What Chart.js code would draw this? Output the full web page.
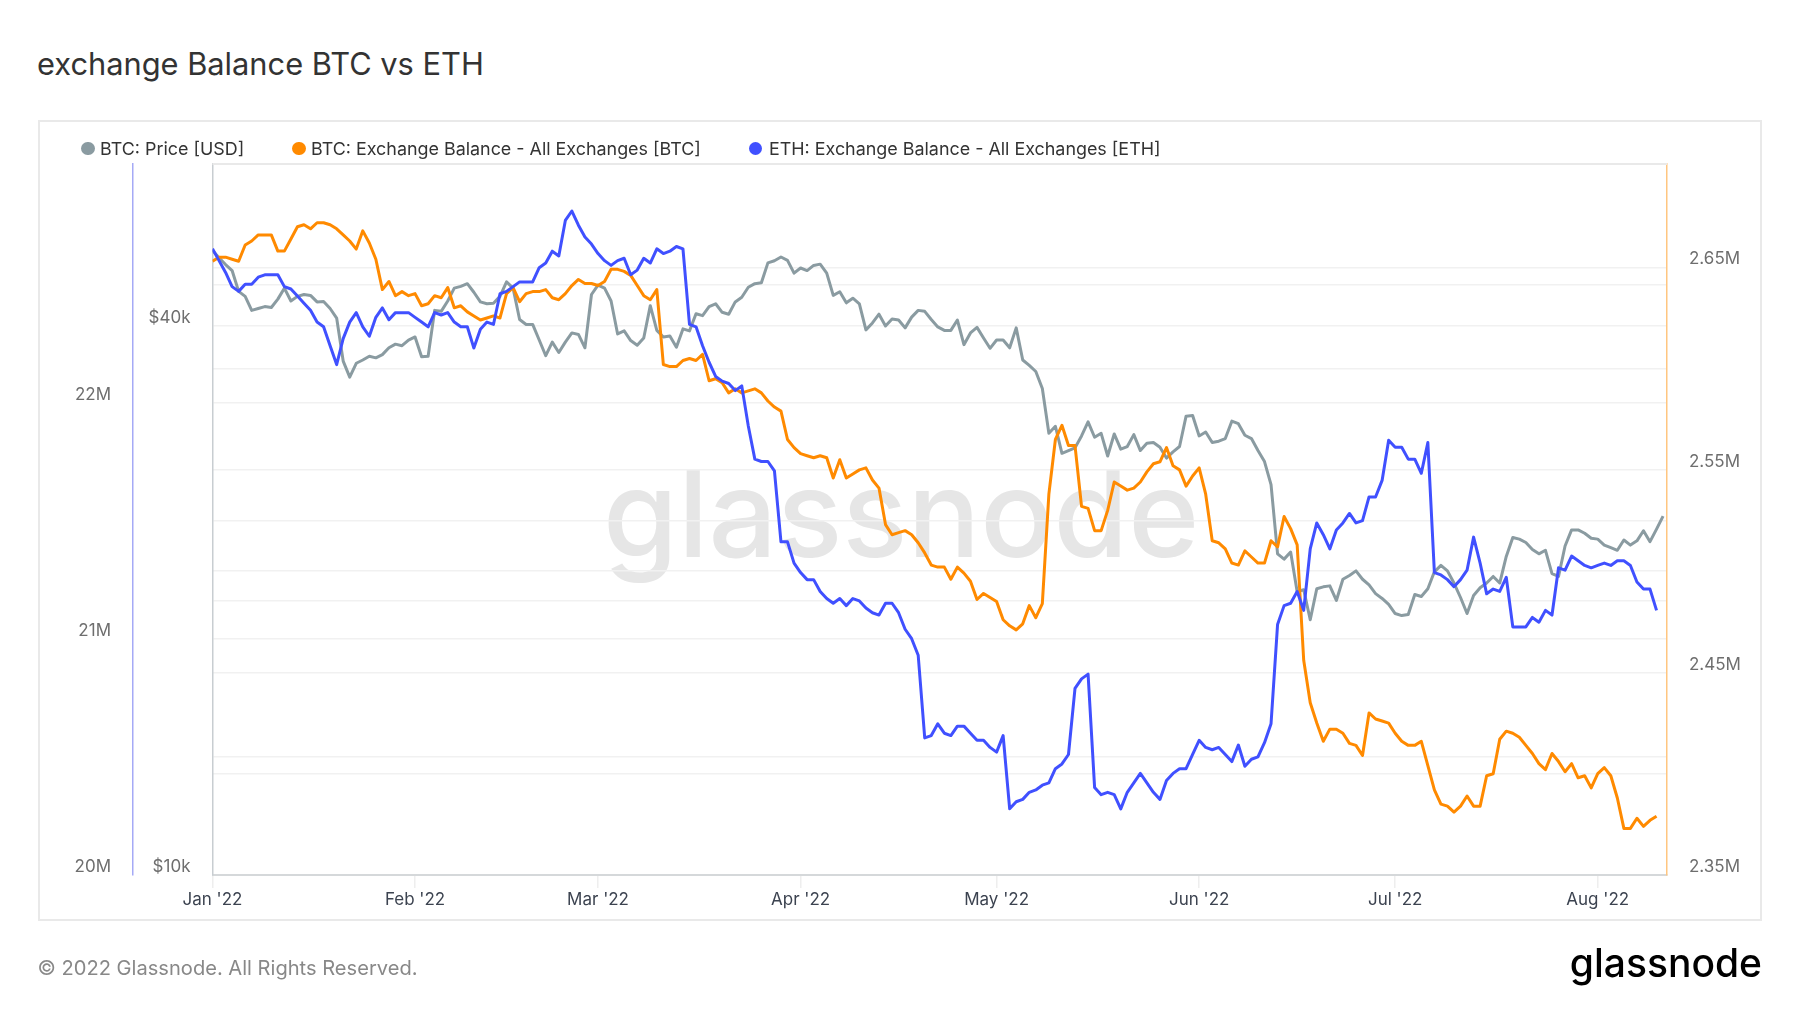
<!DOCTYPE html>
<html>
<head>
<meta charset="utf-8">
<title>exchange Balance BTC vs ETH</title>
<script src="https://cdn.jsdelivr.net/npm/chart.js@4/dist/chart.umd.min.js"></script>
<style>
    html, body { margin: 0; padding: 0; background: #fff; }
    body { width: 1800px; height: 1013px; position: relative; overflow: hidden; font-family: Inter, sans-serif; }
    #title { position: absolute; left: 37px; top: 45px; font-size: 30.8px; font-weight: 400; line-height: 38px; color: #333; white-space: nowrap; }
    #card { position: absolute; left: 38px; top: 120px; width: 1724px; height: 801px; box-sizing: border-box; border: 2px solid #e9e9e9; }
    #watermark { position: absolute; left: 603px; top: 453px; font-size: 121px; font-weight: 500; line-height: 121px; color: #e6e6e6; white-space: nowrap; }
    #chart { position: absolute; left: 0; top: 0; }
    #legend span { position: absolute; top: 138px; font-size: 17.9px; line-height: 21px; color: #333; white-space: nowrap; }
    #legend i { position: absolute; top: 141.5px; width: 13.5px; height: 13.5px; border-radius: 50%; }
    #footer { position: absolute; left: 37.5px; top: 955px; font-size: 20.1px; line-height: 26px; color: #888; white-space: nowrap; }
    #logo { position: absolute; right: 38px; top: 938px; font-size: 39px; font-weight: 500; line-height: 50px; color: #000; white-space: nowrap; }
</style>
</head>
<body>
<div id="title">exchange Balance BTC vs ETH</div>
<div id="card"></div>
<div id="watermark">glassnode</div>
<canvas id="chart" width="1800" height="1013"></canvas>
<div id="legend"></div>
<div id="footer">© 2022 Glassnode. All Rights Reserved.</div>
<div id="logo">glassnode</div>

<script>
// Daily values from 1 Jan 2022
const seriesNames = ['BTC: Price [USD]', 'BTC: Exchange Balance - All Exchanges [BTC]', 'ETH: Exchange Balance - All Exchanges [ETH]'];

// thousands of USD
const btcPrice = [
    48.4, 47.5, 46.7, 46.0, 43.65, 43.1, 41.6, 41.8, 42.0, 41.9, 42.8, 44.0, 42.6, 43.1, 43.3, 43.2, 42.5, 42.55, 41.8, 40.8,
    36.6, 35.15, 36.4, 36.7, 37.05, 36.9, 37.2, 37.85, 38.2, 38.05, 38.6, 38.9, 37.0, 37.05, 41.6, 41.5, 42.6, 44.0, 44.2, 44.5,
    43.55, 42.5, 42.3, 42.35, 43.1, 44.7, 44.0, 40.65, 40.15, 40.15, 38.6, 37.1, 38.4, 37.4, 38.4, 39.3, 39.15, 37.85, 43.3, 44.35,
    44.0, 42.6, 39.2, 39.5, 38.55, 38.1, 38.8, 42.1, 39.55, 38.9, 39.0, 37.9, 39.7, 39.5, 41.25, 41.05, 42.0, 42.3, 41.4, 41.2,
    42.5, 43.0, 44.1, 44.5, 44.6, 46.9, 47.15, 47.6, 47.2, 45.7, 46.3, 46.0, 46.6, 46.75, 45.7, 43.2, 43.6, 42.4, 42.9, 42.3,
    39.6, 40.3, 41.2, 40.0, 40.7, 40.6, 39.8, 40.9, 41.6, 41.5, 40.65, 39.9, 39.55, 39.55, 40.6, 38.15, 39.3, 39.85, 38.8, 37.8,
    38.6, 38.6, 37.85, 39.8, 36.7, 36.2, 35.65, 34.15, 30.5, 31.05, 29.0, 29.2, 29.4, 30.3, 31.4, 30.2, 30.5, 28.8, 30.45, 29.3,
    29.5, 30.4, 29.2, 29.75, 29.8, 29.45, 28.65, 29.1, 29.5, 31.85, 31.9, 30.3, 30.6, 29.8, 29.9, 30.1, 31.45, 31.25, 30.35, 30.1,
    29.2, 28.4, 26.8, 22.5, 22.2, 22.6, 20.45, 20.55, 19.05, 20.6, 20.7, 20.75, 20.0, 21.1, 21.3, 21.55, 21.1, 20.8, 20.35, 20.1,
    19.8, 19.35, 19.25, 19.3, 20.3, 20.2, 20.6, 21.5, 21.85, 21.55, 20.9, 20.15, 19.35, 20.25, 20.65, 20.9, 21.25, 20.9, 22.35, 23.45,
    23.35, 23.15, 22.75, 22.5, 22.7, 21.4, 21.25, 22.95, 23.9, 23.9, 23.7, 23.4, 23.35, 23.0, 22.85, 22.7, 23.3, 23.0, 23.25, 23.85,
    23.2, 23.95, 24.75
];

// millions of BTC
const btcBalance = [
    2.653, 2.655, 2.655, 2.654, 2.653, 2.661, 2.663, 2.666, 2.666, 2.666, 2.658, 2.658, 2.664, 2.670, 2.671, 2.669, 2.672, 2.672, 2.671, 2.669,
    2.666, 2.663, 2.659, 2.668, 2.662, 2.654, 2.639, 2.643, 2.636, 2.638, 2.636, 2.637, 2.631, 2.632, 2.636, 2.635, 2.640, 2.630, 2.631, 2.628,
    2.626, 2.624, 2.625, 2.626, 2.625, 2.637, 2.640, 2.633, 2.637, 2.638, 2.638, 2.639, 2.635, 2.634, 2.637, 2.641, 2.644, 2.642, 2.642, 2.641,
    2.643, 2.649, 2.649, 2.648, 2.646, 2.641, 2.636, 2.634, 2.639, 2.602, 2.601, 2.601, 2.604, 2.605, 2.604, 2.607, 2.594, 2.595, 2.593, 2.588,
    2.590, 2.588, 2.589, 2.590, 2.588, 2.584, 2.581, 2.579, 2.565, 2.561, 2.558, 2.557, 2.556, 2.557, 2.556, 2.546, 2.555, 2.546, 2.548, 2.550,
    2.551, 2.545, 2.541, 2.523, 2.518, 2.519, 2.520, 2.518, 2.514, 2.509, 2.503, 2.502, 2.502, 2.496, 2.502, 2.499, 2.495, 2.486, 2.489, 2.487,
    2.485, 2.476, 2.473, 2.471, 2.474, 2.483, 2.477, 2.484, 2.538, 2.565, 2.572, 2.562, 2.562, 2.532, 2.531, 2.520, 2.520, 2.530, 2.544, 2.542,
    2.540, 2.541, 2.544, 2.549, 2.553, 2.554, 2.561, 2.552, 2.550, 2.542, 2.547, 2.551, 2.538, 2.515, 2.514, 2.511, 2.504, 2.503, 2.510, 2.507,
    2.504, 2.504, 2.515, 2.512, 2.527, 2.521, 2.513, 2.456, 2.435, 2.425, 2.416, 2.422, 2.422, 2.420, 2.415, 2.414, 2.409, 2.430, 2.427, 2.426,
    2.425, 2.420, 2.416, 2.414, 2.414, 2.416, 2.404, 2.392, 2.385, 2.384, 2.381, 2.384, 2.389, 2.384, 2.384, 2.399, 2.400, 2.417, 2.421, 2.420,
    2.418, 2.414, 2.410, 2.405, 2.402, 2.410, 2.406, 2.401, 2.405, 2.398, 2.399, 2.393, 2.400, 2.403, 2.399, 2.388, 2.373, 2.373, 2.378, 2.374,
    2.377, 2.379
];

// millions of ETH
const ethBalance = [
    22.65, 22.60, 22.55, 22.49, 22.47, 22.50, 22.50, 22.53, 22.54, 22.54, 22.54, 22.49, 22.48, 22.45, 22.42, 22.39, 22.34, 22.32, 22.24, 22.16,
    22.27, 22.34, 22.38, 22.32, 22.28, 22.36, 22.40, 22.35, 22.38, 22.38, 22.38, 22.36, 22.34, 22.32, 22.38, 22.37, 22.38, 22.34, 22.32, 22.32,
    22.23, 22.31, 22.34, 22.33, 22.46, 22.47, 22.49, 22.51, 22.51, 22.51, 22.57, 22.59, 22.64, 22.62, 22.77, 22.81, 22.75, 22.70, 22.67, 22.63,
    22.60, 22.58, 22.60, 22.61, 22.54, 22.56, 22.61, 22.59, 22.65, 22.63, 22.64, 22.66, 22.65, 22.33, 22.32, 22.24, 22.17, 22.11, 22.09, 22.08,
    22.05, 22.07, 21.90, 21.76, 21.75, 21.75, 21.71, 21.41, 21.41, 21.32, 21.28, 21.25, 21.25, 21.20, 21.17, 21.15, 21.17, 21.14, 21.17, 21.16,
    21.13, 21.11, 21.10, 21.15, 21.15, 21.11, 21.04, 21.00, 20.93, 20.58, 20.59, 20.64, 20.60, 20.59, 20.63, 20.63, 20.60, 20.57, 20.57, 20.54,
    20.52, 20.59, 20.28, 20.31, 20.32, 20.35, 20.36, 20.38, 20.39, 20.45, 20.47, 20.51, 20.79, 20.83, 20.85, 20.37, 20.34, 20.35, 20.34, 20.28,
    20.35, 20.39, 20.43, 20.39, 20.35, 20.32, 20.40, 20.43, 20.45, 20.45, 20.51, 20.57, 20.54, 20.53, 20.54, 20.51, 20.48, 20.55, 20.46, 20.49,
    20.50, 20.56, 20.64, 21.06, 21.14, 21.15, 21.20, 21.12, 21.38, 21.49, 21.44, 21.38, 21.46, 21.49, 21.53, 21.49, 21.50, 21.60, 21.60, 21.67,
    21.84, 21.81, 21.81, 21.76, 21.76, 21.70, 21.83, 21.28, 21.27, 21.25, 21.22, 21.25, 21.29, 21.43, 21.32, 21.19, 21.21, 21.20, 21.26, 21.05,
    21.05, 21.05, 21.09, 21.07, 21.12, 21.10, 21.30, 21.29, 21.35, 21.33, 21.31, 21.30, 21.31, 21.32, 21.31, 21.33, 21.33, 21.31, 21.24, 21.21,
    21.21, 21.12
];

const monthStarts = [0, 31, 59, 90, 120, 151, 181, 212];
const monthLabels = ["Jan '22", "Feb '22", "Mar '22", "Apr '22", "May '22", "Jun '22", "Jul '22", "Aug '22"];
const priceTicks = [10, 20, 40];
const priceLabels = ['$10k', '', '$40k'];
const ethTicks = [20, 20.5, 21, 21.5, 22, 22.5];
const ethLabels = ['20M', '', '21M', '', '22M', ''];
const btcTicks = [2.35, 2.40, 2.45, 2.50, 2.55, 2.60, 2.65];
const btcLabels = ['2.35M', '', '2.45M', '', '2.55M', '', '2.65M'];

const seriesColors = ['#8a9ba1', '#ff8a00', '#4050ff'];

// Legend sits in its own row above the plot
const legendSpots = [[81, 100], [292, 311], [748.5, 769]];
const legendBox = document.getElementById('legend');
seriesNames.forEach((name, i) => {
    const dot = document.createElement('i');
    dot.style.left = legendSpots[i][0] + 'px';
    dot.style.background = seriesColors[i];
    const label = document.createElement('span');
    label.style.left = legendSpots[i][1] + 'px';
    label.textContent = name;
    legendBox.appendChild(dot);
    legendBox.appendChild(label);
});

const days = btcPrice.map((v, i) => i);

// Shared settings for the three value axes
function valueAxis(position, width, tickValues, tickLabels, borderColor, extra) {
    return Object.assign({
        position: position,
        afterBuildTicks: axis => {
            axis.ticks = tickValues.map(value => ({ value }));
        },
        afterFit: axis => {
            axis.width = width;
        },
        grid: { color: '#f1f1f1', lineWidth: 1.5, drawTicks: false },
        border: { color: borderColor, width: 1.5 },
        ticks: {
            autoSkip: false,
            padding: 22,
            labelOffset: -8,
            color: '#6e6e6e',
            font: { family: 'Inter', size: 17 },
            callback: function(value) {
                return tickLabels[tickValues.indexOf(value)] || '';
            }
        }
    }, extra);
}

// Top edge of the plot
const topEdge = {
    id: 'topEdge',
    beforeDatasetsDraw(chart) {
        const { ctx, chartArea } = chart;
        ctx.save();
        ctx.strokeStyle = '#e9e9e9';
        ctx.lineWidth = 2;
        ctx.beginPath();
        ctx.moveTo(chartArea.left, chartArea.top);
        ctx.lineTo(chartArea.right, chartArea.top);
        ctx.stroke();
        ctx.restore();
    }
};

const makeLine = (i, values, axisId, order) => ({
    label: seriesNames[i],
    data: values,
    yAxisID: axisId,
    order: order,
    borderColor: seriesColors[i],
    backgroundColor: seriesColors[i],
    borderWidth: 3,
    borderJoinStyle: 'round',
    pointRadius: 0,
    tension: 0
});

new Chart(document.getElementById('chart').getContext('2d'), {
    type: 'line',
    data: {
        labels: days,
        datasets: [
            makeLine(0, btcPrice, 'yPrice', 3),
            makeLine(1, btcBalance, 'yBtc', 2),
            makeLine(2, ethBalance, 'yEth', 1)
        ]
    },
    plugins: [topEdge],
    options: {
        responsive: false,
        animation: false,
        layout: { padding: { left: 0, right: 0, top: 164, bottom: 98 } },
        plugins: { legend: { display: false }, tooltip: { enabled: false } },
        scales: {
            x: {
                type: 'linear',
                min: 0,
                max: 222.6,
                afterBuildTicks: axis => {
                    axis.ticks = monthStarts.map(value => ({ value }));
                },
                afterFit: axis => {
                    axis.height = 40;
                },
                grid: { drawOnChartArea: false, tickLength: 13, color: '#eeeeee', lineWidth: 1.5 },
                border: { color: '#d5d8da', width: 2 },
                ticks: {
                    autoSkip: false,
                    maxRotation: 0,
                    padding: 2,
                    color: '#3c4350',
                    font: { family: 'Inter', size: 17 },
                    callback: function(value) {
                        return monthLabels[monthStarts.indexOf(value)] || '';
                    }
                }
            },
            yEth: valueAxis('left', 133, ethTicks, ethLabels, '#a5aaf6', { weight: 2, min: 20, max: 23.009 }),
            yPrice: valueAxis('left', 79.5, priceTicks, priceLabels, '#c8cdd1', { weight: 1, type: 'logarithmic', min: 10, max: 60.2 }),
            yBtc: valueAxis('right', 133, btcTicks, btcLabels, '#ffc680', { min: 2.35, max: 2.701 })
        }
    }
});
</script>
</body>
</html>
